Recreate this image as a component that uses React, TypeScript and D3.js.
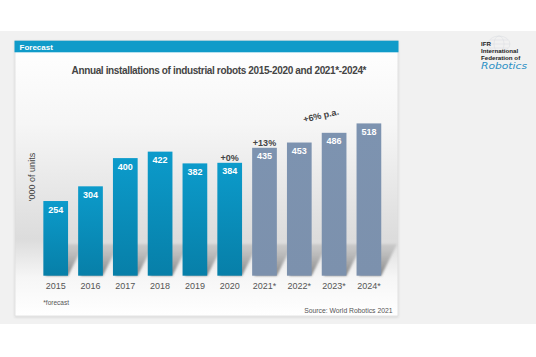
import React from "react";
import * as d3 from "d3";

const years = ["2015", "2016", "2017", "2018", "2019", "2020", "2021*", "2022*", "2023*", "2024*"];
const values = [254, 304, 400, 422, 382, 384, 435, 453, 486, 518];
const isForecast = [false, false, false, false, false, false, true, true, true, true];
const growthNotes = [
  { year: "2020", text: "+0%" },
  { year: "2021*", text: "+13%" },
];
const trendNote = "+6% p.a.";
const title = "Annual installations of industrial robots 2015-2020 and 2021*-2024*";
const yLabel = "'000 of units";

const FONT = "'Liberation Sans', Arial, sans-serif";

export default function App() {
  const W = 536, H = 357;
  const baseY = 275.7;
  const y = d3.scaleLinear().domain([0, 600]).range([baseY, baseY - 600 * 0.294]);
  const x = d3.scaleBand<string>().domain(years).range([38.3, 386.3]).paddingInner(0.29).paddingOuter(0.145);
  const bw = x.bandwidth();

  return (
    <svg width={W} height={H} style={{ position: "absolute", left: 0, top: 0 }} fontFamily={FONT}>
      <defs>
        <linearGradient id="panelBg" x1="0" y1="0" x2="0" y2="1">
          <stop offset="0" stopColor="#ffffff" />
          <stop offset="0.3" stopColor="#f6f6f6" />
          <stop offset="0.72" stopColor="#dcdcdc" />
          <stop offset="0.86" stopColor="#f6f6f6" />
          <stop offset="1" stopColor="#ffffff" />
        </linearGradient>
        <linearGradient id="blueBar" x1="0" y1="0" x2="0" y2="1">
          <stop offset="0" stopColor="#0c9bcb" />
          <stop offset="1" stopColor="#077fa8" />
        </linearGradient>
        <linearGradient id="grayBar" x1="0" y1="0" x2="0" y2="1">
          <stop offset="0" stopColor="#7d93b0" />
          <stop offset="1" stopColor="#7c91ad" />
        </linearGradient>
        <linearGradient id="shadowGrad" x1="0" y1="1" x2="0" y2="0">
          <stop offset="0" stopColor="#707070" stopOpacity="0.85" />
          <stop offset="1" stopColor="#909090" stopOpacity="0.25" />
        </linearGradient>
        <filter id="blur" x="-50%" y="-50%" width="200%" height="200%">
          <feGaussianBlur stdDeviation="1.3" />
        </filter>
        <filter id="panelShadow" x="-5%" y="-5%" width="110%" height="110%">
          <feDropShadow dx="0" dy="1" stdDeviation="1" floodColor="#000" floodOpacity="0.12" />
        </filter>
      </defs>

      <rect x={0} y={0} width={W} height={H} fill="#ffffff" />
      <rect x={0} y={31} width={W} height={293} fill="#f1f1f1" />

      {/* panel */}
      <rect x={15} y={40.7} width={383} height={275.3} fill="url(#panelBg)" stroke="#dcdcdc" strokeWidth={0.8} filter="url(#panelShadow)" />
      <rect x={14.5} y={40.7} width={384} height={11.6} fill="#109bc9" />
      <text x={19.5} y={49.6} fontSize={8} fontWeight="bold" fill="#ffffff">Forecast</text>

      <text x={219} y={73.5} fontSize={10} fontWeight="bold" fill="#444444" textAnchor="middle" textLength={295} lengthAdjust="spacing">{title}</text>

      {/* shadows */}
      {years.map((yr) => {
        const x0 = x(yr)!;
        const h = 32;
        const dx = 16;
        const pts = [
          [x0 + 2, baseY],
          [x0 + bw, baseY],
          [x0 + bw + dx, baseY - h],
          [x0 + 2 + dx, baseY - h],
        ];
        return (
          <polygon key={"s" + yr} points={pts.map(p => p.join(",")).join(" ")} fill="url(#shadowGrad)" filter="url(#blur)" />
        );
      })}

      {/* bars */}
      {years.map((yr, i) => (
        <rect key={yr} x={x(yr)} y={y(values[i])} width={bw} height={baseY - y(values[i])}
          fill={isForecast[i] ? "url(#grayBar)" : "url(#blueBar)"} />
      ))}

      {/* value labels */}
      {years.map((yr, i) => (
        <text key={"v" + yr} x={x(yr)! + bw / 2} y={y(values[i]) + 11.5} fontSize={9} fontWeight="bold"
          fill="#ffffff" textAnchor="middle">{values[i]}</text>
      ))}

      {/* growth notes */}
      {growthNotes.map(g => {
        const i = years.indexOf(g.year);
        return (
          <text key={g.text} x={x(g.year)! + bw / 2} y={y(values[i]) - 2} fontSize={9} fontWeight="bold"
            fill="#444444" textAnchor="middle">{g.text}</text>
        );
      })}
      <text x={0} y={0} fontSize={9} fontWeight="bold" fill="#444444" textAnchor="middle"
        transform={`translate(${(x("2022*")! + x("2023*")! + bw) / 2 + 5},${y(values[7]) - 24}) rotate(-13)`}>{trendNote}</text>

      {/* x labels */}
      {years.map(yr => (
        <text key={"x" + yr} x={x(yr)! + bw / 2} y={288.5} fontSize={9} fill="#555555" textAnchor="middle">{yr}</text>
      ))}

      <text transform="translate(34.5,177) rotate(-90)" fontSize={9} fill="#444444" textAnchor="middle">{yLabel}</text>

      <text x={43.3} y={304.5} fontSize={6.5} fill="#555555">*forecast</text>
      <text x={392.5} y={312.5} fontSize={6.8} fill="#555555" textAnchor="end">Source: World Robotics 2021</text>

      {/* IFR logo */}
      <g opacity={0.35} stroke="#aab3c0" fill="none" strokeWidth={0.5}>
        <ellipse cx={499} cy={44} rx={11} ry={8} />
        <ellipse cx={499} cy={44} rx={5} ry={8} />
        <line x1={488} y1={44} x2={510} y2={44} />
        <line x1={490} y1={40} x2={508} y2={40} />
        <line x1={490} y1={48} x2={508} y2={48} />
      </g>
      <text x={481} y={45.5} fontSize={6.2} fontWeight="bold" fill="#222222">IFR</text>
      <text x={481} y={52.5} fontSize={6.2} fontWeight="bold" fill="#222222">International</text>
      <text x={481} y={59.5} fontSize={6.2} fontWeight="bold" fill="#222222">Federation of</text>
      <text x={481} y={69} fontSize={8.5} fontStyle="italic" fill="#2a8fc4" fontFamily="'DejaVu Sans', sans-serif" textLength={46} lengthAdjust="spacingAndGlyphs">Robotics</text>
    </svg>
  );
}
